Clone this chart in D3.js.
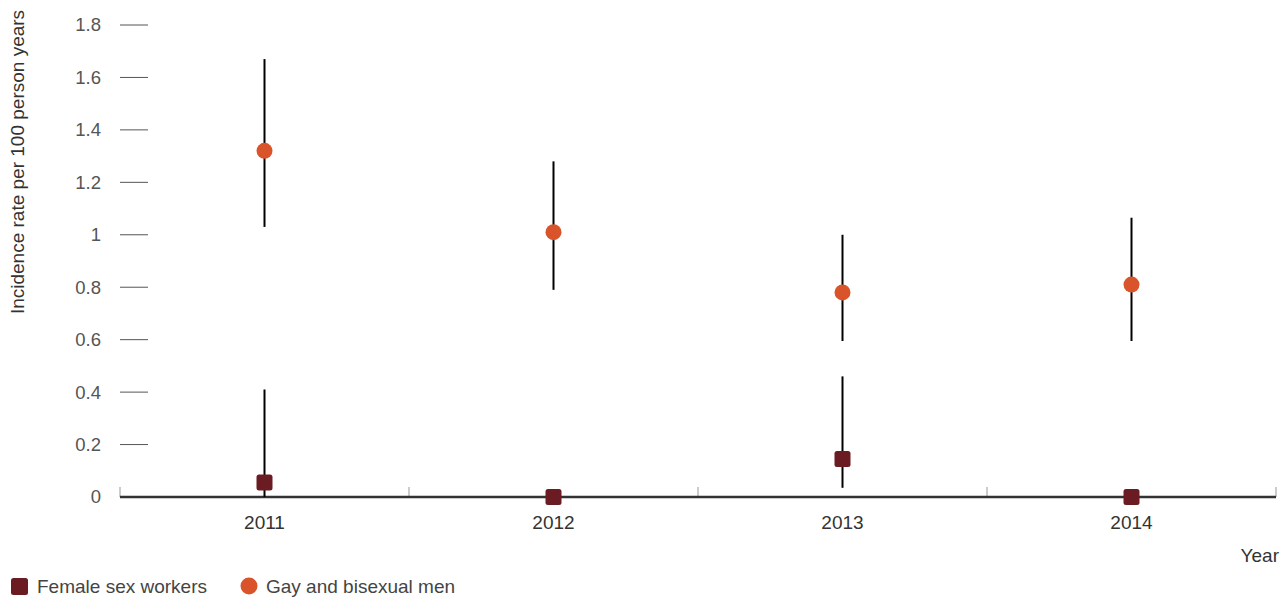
<!DOCTYPE html>
<html>
<head>
<meta charset="utf-8">
<script src="https://cdn.jsdelivr.net/npm/d3@7"></script>
<style>
  html, body { margin: 0; padding: 0; background: #fff; }
  svg { display: block; font-family: "Liberation Sans", Arial, Helvetica, sans-serif; }
</style>
</head>
<body>
<svg id="chart" width="1280" height="597"></svg>
<script>
const years = ["2011", "2012", "2013", "2014"];
const yTicks = [0, 0.2, 0.4, 0.6, 0.8, 1, 1.2, 1.4, 1.6, 1.8];

const gbmValue = [1.32, 1.01, 0.78, 0.81];
const gbmLower = [1.03, 0.79, 0.595, 0.595];
const gbmUpper = [1.67, 1.28, 1.0, 1.065];

const fswValue = [0.055, 0, 0.145, 0];
const fswLower = [0, null, 0.035, null];
const fswUpper = [0.41, null, 0.46, null];

const seriesNames = ["Female sex workers", "Gay and bisexual men"];
const colors = { fsw: "#6b1c22", gbm: "#d9542a" };

const svg = d3.select("#chart");
const x = d3.scaleBand().domain(years).range([120, 1276]).padding(0);
const y = d3.scaleLinear().domain([0, 1.8]).range([497, 25]);

// y ticks
const yAxis = svg.append("g");
yAxis.selectAll("line").data(yTicks).join("line")
  .attr("x1", 120).attr("x2", 148)
  .attr("y1", d => y(d)).attr("y2", d => y(d))
  .attr("stroke", "#555").attr("stroke-width", 1);
yAxis.selectAll("text").data(yTicks).join("text")
  .attr("x", 101).attr("y", d => y(d))
  .attr("text-anchor", "end").attr("dy", "0.35em")
  .attr("font-size", 18.5).attr("fill", "#555")
  .text(d => d3.format("~g")(d));

// y title
svg.append("text")
  .attr("transform", "translate(24,162) rotate(-90)")
  .attr("text-anchor", "middle")
  .attr("font-size", 19).attr("fill", "#333")
  .text("Incidence rate per 100 person years");

// x axis boundary ticks
const bounds = years.map(d => x(d)).concat([x.range()[1]]);
svg.append("g").selectAll("line").data(bounds).join("line")
  .attr("x1", d => d).attr("x2", d => d)
  .attr("y1", 487).attr("y2", 497)
  .attr("stroke", "#999").attr("stroke-width", 1);

// x baseline
svg.append("line")
  .attr("x1", 120).attr("x2", 1276)
  .attr("y1", y(0)).attr("y2", y(0))
  .attr("stroke", "#333").attr("stroke-width", 2.5);

// x labels
svg.append("g").selectAll("text").data(years).join("text")
  .attr("x", d => x(d) + x.bandwidth() / 2).attr("y", 529)
  .attr("text-anchor", "middle")
  .attr("font-size", 19).attr("fill", "#333")
  .text(d => d);

svg.append("text")
  .attr("x", 1279).attr("y", 562)
  .attr("text-anchor", "end")
  .attr("font-size", 19).attr("fill", "#333")
  .text("Year");

const cx = d => x(d) + x.bandwidth() / 2;

// error bars
const gbmData = years.map((d, i) => ({ year: d, v: gbmValue[i], lo: gbmLower[i], hi: gbmUpper[i] }));
const fswData = years.map((d, i) => ({ year: d, v: fswValue[i], lo: fswLower[i], hi: fswUpper[i] }));

svg.append("g").selectAll("line")
  .data(gbmData.concat(fswData).filter(d => d.lo !== null))
  .join("line")
  .attr("x1", d => cx(d.year)).attr("x2", d => cx(d.year))
  .attr("y1", d => y(d.lo)).attr("y2", d => y(d.hi))
  .attr("stroke", "#000").attr("stroke-width", 2);

// points
svg.append("g").selectAll("circle").data(gbmData).join("circle")
  .attr("cx", d => cx(d.year)).attr("cy", d => y(d.v))
  .attr("r", 8).attr("fill", colors.gbm);

svg.append("g").selectAll("rect").data(fswData).join("rect")
  .attr("x", d => cx(d.year) - 8).attr("y", d => y(d.v) - 8)
  .attr("width", 16).attr("height", 16).attr("rx", 2.5)
  .attr("fill", colors.fsw);

// legend
const leg = svg.append("g");
leg.append("rect").attr("x", 11).attr("y", 578).attr("width", 17).attr("height", 17)
  .attr("rx", 2.5).attr("fill", colors.fsw);
leg.append("text").attr("x", 37).attr("y", 593).attr("font-size", 19).attr("fill", "#444")
  .text(seriesNames[0]);
leg.append("circle").attr("cx", 249).attr("cy", 586).attr("r", 8.5).attr("fill", colors.gbm);
leg.append("text").attr("x", 266).attr("y", 593).attr("font-size", 19).attr("fill", "#444")
  .text(seriesNames[1]);
</script>
</body>
</html>
